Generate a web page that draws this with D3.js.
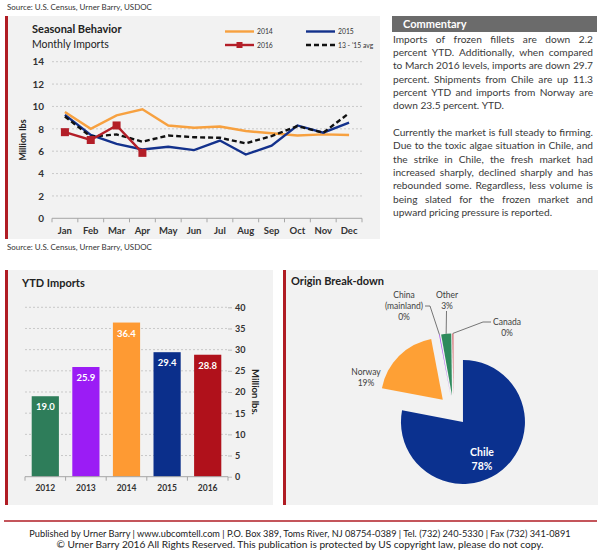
<!DOCTYPE html>
<html>
<head>
<meta charset="utf-8">
<script src="https://cdn.jsdelivr.net/npm/d3@7.9.0/dist/d3.min.js"></script>
<style>
  html, body { margin: 0; padding: 0; background: #fff; }
  svg { display: block; font-family: Lato, "Open Sans", sans-serif; }
</style>
</head>
<body>
<svg id="page" width="600" height="551"></svg>
<script>
// Seasonal behavior - monthly imports (million lbs)
const months = ["Jan", "Feb", "Mar", "Apr", "May", "Jun", "Jul", "Aug", "Sep", "Oct", "Nov", "Dec"];
const imports2014 = [9.5, 8.0, 9.2, 9.75, 8.3, 8.1, 8.2, 7.8, 7.6, 7.4, 7.5, 7.45];
const imports2015 = [9.25, 7.45, 6.65, 6.15, 6.4, 6.1, 6.95, 5.7, 6.5, 8.3, 7.65, 8.55];
const imports2016 = [7.7, 7.0, 8.3, 5.85];
const avg1315 = [9.1, 7.3, 7.5, 6.85, 7.4, 7.25, 7.2, 6.7, 7.35, 8.25, 7.65, 9.4];
const seasonalTicks = [0, 2, 4, 6, 8, 10, 12, 14];

// YTD imports (million lbs)
const years = ["2012", "2013", "2014", "2015", "2016"];
const ytdImports = [19.0, 25.9, 36.4, 29.4, 28.8];
const ytdTicks = [0, 5, 10, 15, 20, 25, 30, 35, 40];

// Origin break-down (share %)
const origins = ["Chile", "Norway", "China (mainland)", "Other", "Canada"];
const originShares = [78.0, 19.0, 0.2, 2.6, 0.2];

const commentary = [
  ["Imports of frozen fillets are down 2.2",
   "percent YTD. Additionally, when compared",
   "to March 2016 levels, imports are down 29.7",
   "percent. Shipments from Chile are up 11.3",
   "percent YTD and imports from Norway are",
   "down 23.5 percent. YTD."],
  ["Currently the market is full steady to firming.",
   "Due to the toxic algae situation in Chile, and",
   "the strike in Chile, the fresh market had",
   "increased sharply, declined sharply and has",
   "rebounded some. Regardless, less volume is",
   "being slated for the frozen market and",
   "upward pricing pressure is reported."]
];

const RED = "#b01c24";
const PANEL = "#f2f2f2";
const TEXT = "#333";

const svg = d3.select("#page");

// panels with the red left rule
function panel(x, y, w, h) {
  svg.append("rect").attr("x", x).attr("y", y).attr("width", w).attr("height", h).attr("fill", PANEL);
  svg.append("rect").attr("x", x).attr("y", y).attr("width", 3).attr("height", h).attr("fill", RED);
}
panel(5, 16, 375, 223);
panel(5, 270, 268, 235);
panel(283, 270, 315, 235);

// text that is scaled to span a given width
function fittedText(str, xPos, yPos, width, anchor) {
  const t = svg.append("text").attr("x", xPos).attr("y", yPos).attr("text-anchor", anchor)
    .attr("font-size", 10).attr("fill", TEXT).text(str);
  const w = t.node().getComputedTextLength();
  t.attr("font-size", 10 * width / w);
  return t;
}

const source = "Source: U.S. Census, Urner Barry, USDOC";
fittedText(source, 7, 10, 145, "start");
fittedText(source, 7, 250, 145, "start");

// ---------- Seasonal behavior line chart ----------
const x = d3.scaleBand().domain(months).range([52, 362]);
const y = d3.scaleLinear().domain([0, 14]).range([218.3, 61.7]);
const cx = m => x(m) + x.bandwidth() / 2;

const seasonal = svg.append("g");
seasonal.append("text").attr("x", 32).attr("y", 33).attr("font-size", 11).attr("font-weight", 700)
  .attr("fill", "#222").text("Seasonal Behavior");
seasonal.append("text").attr("x", 32).attr("y", 48).attr("font-size", 10.5).attr("fill", "#222")
  .text("Monthly Imports");

seasonal.append("g").selectAll("line").data(seasonalTicks.filter(d => d > 0)).join("line")
  .attr("x1", 52).attr("x2", 362).attr("y1", d => y(d)).attr("y2", d => y(d))
  .attr("stroke", "#c9c9c9").attr("stroke-dasharray", "2,2");

seasonal.append("g").attr("transform", "translate(52,0)")
  .call(d3.axisLeft(y).tickValues(seasonalTicks).tickSize(0).tickPadding(8))
  .call(g => g.select(".domain").remove())
  .selectAll("text").attr("font-size", 10).attr("font-weight", 700).attr("fill", TEXT)
  .attr("font-family", "Lato, sans-serif");

seasonal.append("line").attr("x1", 52).attr("x2", 362).attr("y1", y(0)).attr("y2", y(0))
  .attr("stroke", "#a6a6a6");
seasonal.append("g").selectAll("line").data(d3.range(months.length + 1)).join("line")
  .attr("x1", i => 52 + i * x.step()).attr("x2", i => 52 + i * x.step())
  .attr("y1", y(0)).attr("y2", y(0) + 4).attr("stroke", "#a6a6a6");
seasonal.append("g").selectAll("text").data(months).join("text")
  .attr("x", cx).attr("y", 233.5).attr("text-anchor", "middle")
  .attr("font-size", 9.5).attr("font-weight", 700).attr("fill", TEXT).text(d => d);

seasonal.append("text").attr("transform", `translate(26,${y(7)}) rotate(-90)`)
  .attr("text-anchor", "middle").attr("font-size", 9).attr("font-weight", 700)
  .attr("fill", "#222").text("Million lbs");

const line = d3.line().x((d, i) => cx(months[i])).y(d => y(d));
const series = [
  { name: "2014", values: imports2014, color: "#f7a140", dash: null },
  { name: "2015", values: imports2015, color: "#13318c", dash: null },
  { name: "13 - '15 avg", values: avg1315, color: "#111", dash: "5,3" },
  { name: "2016", values: imports2016, color: "#b31e28", dash: null }
];
series.forEach(s => {
  seasonal.append("path").attr("d", line(s.values)).attr("fill", "none")
    .attr("stroke", s.color).attr("stroke-width", 2.4)
    .attr("stroke-dasharray", s.dash);
});
seasonal.append("g").selectAll("rect").data(imports2016).join("rect")
  .attr("x", (d, i) => cx(months[i]) - 4).attr("y", d => y(d) - 4)
  .attr("width", 8).attr("height", 8).attr("fill", "#b31e28");

// legend
const legendItems = [
  { s: series[0], lx: 225, ly: 31.5 },
  { s: series[1], lx: 306, ly: 31.5 },
  { s: series[3], lx: 225, ly: 45 },
  { s: series[2], lx: 306, ly: 45 }
];
legendItems.forEach(({ s, lx, ly }) => {
  seasonal.append("line").attr("x1", lx).attr("x2", lx + 29).attr("y1", ly).attr("y2", ly)
    .attr("stroke", s.color).attr("stroke-width", 2.4).attr("stroke-dasharray", s.dash);
  if (s.name === "2016") {
    seasonal.append("rect").attr("x", lx + 11.5).attr("y", ly - 3).attr("width", 6).attr("height", 6)
      .attr("fill", s.color);
  }
  seasonal.append("text").attr("x", lx + 32).attr("y", ly + 2.5).attr("font-size", 6.8)
    .attr("fill", TEXT).text(s.name);
});

// ---------- Commentary ----------
svg.append("rect").attr("x", 392).attr("y", 16).attr("width", 205).attr("height", 16).attr("fill", "#6b6b6b");
svg.append("text").attr("x", 403).attr("y", 28).attr("font-size", 11).attr("font-weight", 700)
  .attr("fill", "#fff").text("Commentary");

const com = svg.append("g").attr("fill", "#3a3a3a");
const colX = 393, colW = 200, lineH = 13.35;
// fit the font so the longest line just fills the column
let fs = 10.5;
const probe = com.append("text").attr("font-size", fs);
const widest = d3.max(commentary.flat(), t => probe.text(t).node().getComputedTextLength());
probe.remove();
fs = Math.min(fs, fs * colW / widest);

let row = 0;
commentary.forEach(par => {
  par.forEach((ln, li) => {
    const by = 42.5 + row * lineH;
    const words = ln.split(" ");
    const last = li === par.length - 1;
    const nodes = words.map(w => com.append("text").attr("font-size", fs).attr("y", by).text(w));
    const widths = nodes.map(n => n.node().getComputedTextLength());
    const space = fs * 0.24;
    const gap = last ? space : (colW - d3.sum(widths)) / (words.length - 1);
    let px = colX;
    nodes.forEach((n, i) => { n.attr("x", px); px += widths[i] + gap; });
    row++;
  });
  row++;
});

// ---------- YTD imports bar chart ----------
const xb = d3.scaleBand().domain(years).range([25, 228]).paddingInner(0.33).paddingOuter(0.165);
const yb = d3.scaleLinear().domain([0, 40]).range([476.7, 307.3]);
const barColors = ["#2e7d5a", "#9b1cf5", "#fe9a33", "#0b2f8b", "#b0111b"];

const bars = svg.append("g");
bars.append("text").attr("x", 22).attr("y", 287).attr("font-size", 11).attr("font-weight", 700)
  .attr("fill", "#222").text("YTD Imports");

bars.append("g").selectAll("line").data(ytdTicks.filter(d => d > 0)).join("line")
  .attr("x1", 25).attr("x2", 228).attr("y1", d => yb(d)).attr("y2", d => yb(d))
  .attr("stroke", "#c9c9c9").attr("stroke-dasharray", "2,2");

bars.append("g").attr("transform", "translate(228,0)")
  .call(d3.axisRight(yb).tickValues(ytdTicks).tickSize(4).tickPadding(3))
  .call(g => g.select(".domain").remove())
  .call(g => g.selectAll("line").attr("stroke", "#bdbdbd"))
  .selectAll("text").attr("font-size", 9).attr("font-weight", 700).attr("fill", TEXT)
  .attr("font-family", "Lato, sans-serif");

bars.append("g").selectAll("rect").data(ytdImports).join("rect")
  .attr("x", (d, i) => xb(years[i])).attr("width", xb.bandwidth())
  .attr("y", d => yb(d)).attr("height", d => yb(0) - yb(d))
  .attr("fill", (d, i) => barColors[i]);

bars.append("g").selectAll("text").data(ytdImports).join("text")
  .attr("x", (d, i) => xb(years[i]) + xb.bandwidth() / 2).attr("y", d => yb(d) + 14)
  .attr("text-anchor", "middle").attr("font-size", 9.5).attr("font-weight", 700)
  .attr("fill", "#fff").text(d => d.toFixed(1));

bars.append("line").attr("x1", 25).attr("x2", 228).attr("y1", yb(0)).attr("y2", yb(0))
  .attr("stroke", "#a6a6a6");
bars.append("g").selectAll("line").data(d3.range(years.length + 1)).join("line")
  .attr("x1", i => 25 + i * xb.step()).attr("x2", i => 25 + i * xb.step())
  .attr("y1", yb(0)).attr("y2", yb(0) + 4).attr("stroke", "#a6a6a6");
bars.append("g").selectAll("text").data(years).join("text")
  .attr("x", d => xb(d) + xb.bandwidth() / 2).attr("y", 491)
  .attr("text-anchor", "middle").attr("font-size", 8.5).attr("font-weight", 700)
  .attr("fill", TEXT).text(d => d);

bars.append("text").attr("transform", `translate(252,${yb(20)}) rotate(90)`)
  .attr("text-anchor", "middle").attr("font-size", 9.5).attr("font-weight", 700)
  .attr("fill", "#222").text("Million lbs.");

// ---------- Origin break-down pie ----------
const pieColors = ["#0b318f", "#fea035", "#a34df0", "#2e8a5c", "#c0121b"];
const pc = [453.4, 410.4], R = 62, explode = 15;

const pieG = svg.append("g");
pieG.append("text").attr("x", 291).attr("y", 285).attr("font-size", 11).attr("font-weight", 700)
  .attr("fill", "#222").text("Origin Break-down");

const arcs = d3.pie().sort(null).value(d => d)(originShares);
const arc = d3.arc().innerRadius(0).outerRadius(R);
const dir = a => { const m = (a.startAngle + a.endAngle) / 2; return [Math.sin(m), -Math.cos(m)]; };

arcs.forEach((a, i) => {
  const [dx, dy] = dir(a);
  a.cx = pc[0] + dx * explode;
  a.cy = pc[1] + dy * explode;
  a.ox = a.cx + dx * R;
  a.oy = a.cy + dy * R;
  pieG.append("path").attr("d", arc(a)).attr("transform", `translate(${a.cx},${a.cy})`)
    .attr("fill", pieColors[i]);
});

// label layout (Excel-style placement)
const pieLabels = {
  "Chile":            { tx: 482, ty: 456, leader: null, white: true },
  "Norway":           { tx: 366, ty: 375, leader: null },
  "China (mainland)": { tx: 404, ty: 297.5, leader: [[430, 306], [425, 306]] },
  "Other":            { tx: 447, ty: 298, leader: [[446.5, 311]] },
  "Canada":           { tx: 507, ty: 325, leader: [[483, 322], [491, 322]] }
};
arcs.forEach((a, i) => {
  const name = origins[i];
  const L = pieLabels[name];
  const pct = Math.round(originShares[i]) + "%";
  const lines = name === "China (mainland)" ? ["China", "(mainland)", pct] : [name, pct];
  if (L.leader) {
    const pts = [[a.ox, a.oy]].concat(L.leader);
    pieG.append("path").attr("d", d3.line()(pts)).attr("fill", "none")
      .attr("stroke", "#555").attr("stroke-width", 0.8);
  }
  const t = pieG.append("text").attr("text-anchor", "middle")
    .attr("font-size", L.white ? 10.5 : 8.5)
    .attr("font-weight", L.white ? 700 : 400)
    .attr("fill", L.white ? "#fff" : "#404040");
  lines.forEach((s, k) => {
    t.append("tspan").attr("x", L.tx).attr("y", L.ty + k * (L.white ? 14 : 11)).text(s);
  });
});

// ---------- Footer ----------
svg.append("line").attr("x1", 4).attr("x2", 597).attr("y1", 521).attr("y2", 521)
  .attr("stroke", RED).attr("stroke-width", 1.5);
fittedText("Published by Urner Barry  |  www.ubcomtell.com  |  P.O. Box 389, Toms River, NJ 08754-0389  |  Tel. (732) 240-5330  |  Fax (732) 341-0891",
  300, 537, 542, "middle").attr("fill", "#222");
fittedText("© Urner Barry 2016 All Rights Reserved. This publication is protected by US copyright law, please do not copy.",
  300, 548, 488, "middle").attr("fill", "#222");
</script>
</body>
</html>
